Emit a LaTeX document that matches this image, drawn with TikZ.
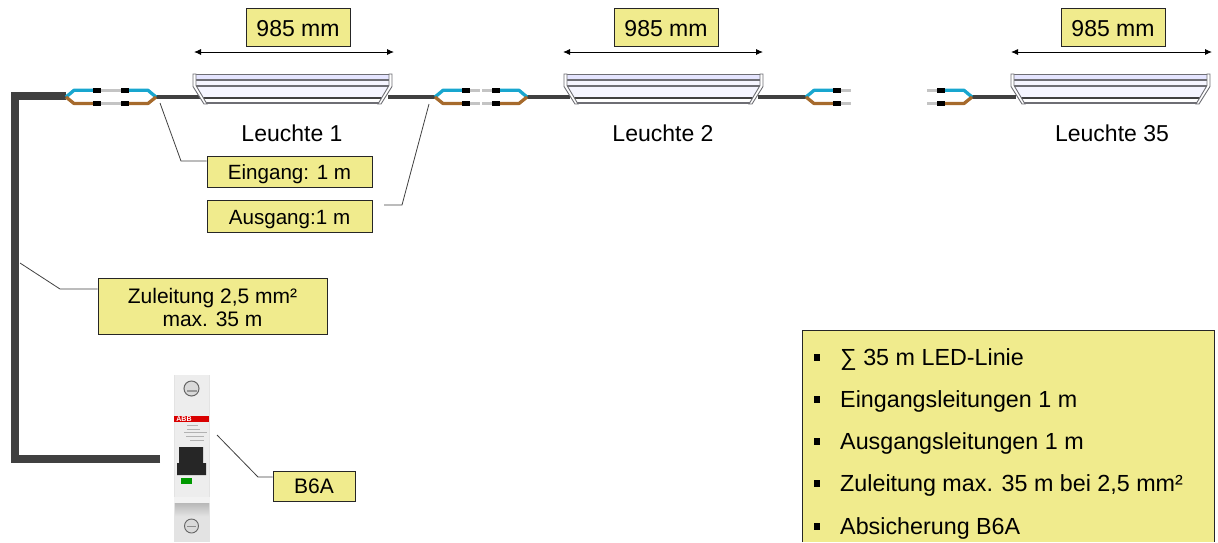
\documentclass[tikz,border=0pt]{standalone}
\usepackage{fontspec}
\setmainfont{Liberation Sans}
\usetikzlibrary{arrows.meta}
\definecolor{boxy}{HTML}{F0EB8D}
\definecolor{cabledark}{HTML}{404040}
\definecolor{blueW}{HTML}{18A6CF}
\definecolor{brownW}{HTML}{A66A2C}
\definecolor{pinG}{HTML}{C4C4C4}
\definecolor{lampG}{HTML}{6E6E74}
\newcommand{\lift}[1]{\rule{0pt}{#1pt}}
\tikzset{
  x=1pt,y=-1pt,
  lab/.style={draw=black!85,line width=0.7pt,fill=boxy,inner sep=0pt,font=\fontsize{20.6}{23}\selectfont,align=center},
  labw/.style={lab,font=\fontsize{21}{23}\selectfont},
  bigl/.style={lab,font=\fontsize{23}{25}\selectfont},
  plain/.style={inner sep=0pt,font=\fontsize{23}{25}\selectfont},
  bigtxt/.style={inner sep=0pt,anchor=base west,font=\fontsize{23.3}{25}\selectfont},
  bulletsq/.style={fill=black,inner sep=0pt,minimum size=6.5pt},
  leader/.style={draw=black!75,line width=0.8pt},
  dimarrow/.style={draw=black,line width=0.9pt,{Latex[length=7pt,width=6pt]}-{Latex[length=7pt,width=6pt]}},
  feed/.style={draw=cabledark,line width=8pt,miter limit=10},
  thincable/.style={draw=cabledark,line width=3.6pt},
  corew/.style={line width=3.3pt,line join=round},
  pinw/.style={draw=pinG,line width=3pt},
  sleeve/.style={draw=black,line width=5pt},
  lampline/.style={draw=lampG,line width=1.3pt},
}
% half connector: #1 = root x, #2 = direction (+1/-1)
\newcommand{\halfconn}[2]{%
  \draw[corew,blueW] (#1,97) -- ({#1+#2*8},90.3) -- ({#1+#2*27},90.3);
  \draw[corew,brownW] (#1,97) -- ({#1+#2*8},103.5) -- ({#1+#2*27},103.5);
  \foreach \yy in {90.3,103.5}{
    \draw[sleeve] ({#1+#2*27},\yy) -- ({#1+#2*35},\yy);
    \draw[pinw] ({#1+#2*35},\yy) -- ({#1+#2*45},\yy);
  }}
% lamp: #1 = left x
\newcommand{\lamp}[1]{%
  \fill[blue!10] (#1+1,74.5) rectangle (#1+198,80);
  \fill[blue!4] (#1+1,80) -- (#1+1,86) -- (#1+12,103) -- (#1+187,103) -- (#1+198,86) -- (#1+198,80) -- cycle;
  \fill[white] (#1+12,98) rectangle (#1+187,103);
  \draw[thincable,line width=2pt] (#1+8,97.7) -- (#1+192,97.7);
  \draw[lampline] (#1,74.5) -- (#1+199,74.5);
  \draw[lampline] (#1+1,80) -- (#1+198,80);
  \draw[lampline] (#1+1,86) -- (#1+198,86);
  \draw[lampline] (#1+12,103) -- (#1+187,103);
  \fill[white,draw=lampG,line width=0.9pt] (#1,74) -- (#1,86.5) -- (#1+11,104) -- (#1+14,104) -- (#1+3,85.5) -- (#1+3,74) -- cycle;
  \fill[white,draw=lampG,line width=0.9pt] (#1+199,74) -- (#1+199,86.5) -- (#1+188,104) -- (#1+185,104) -- (#1+196,85.5) -- (#1+196,74) -- cycle;
}
\begin{document}
\begin{tikzpicture}
\useasboundingbox (0,0) rectangle (1218,542);

% wiring
\coordinate (feedA) at (160,459);
\coordinate (feedB) at (15,459);
\coordinate (feedC) at (15,96);
\coordinate (feedD) at (66,96);
\draw[feed] (feedA) -- (feedB) -- (feedC) -- (feedD);
\coordinate (c1) at (156,97);
\coordinate (c2) at (435,97);
\coordinate (c3) at (527,97);
\coordinate (c4) at (806,97);
\coordinate (c5) at (972,97);
\coordinate (l1a) at (200,97);
\coordinate (l1b) at (388,97);
\coordinate (l2a) at (570,97);
\coordinate (l2b) at (758,97);
\coordinate (l3a) at (1016,97);
\draw[thincable] (c1) -- (l1a);
\draw[thincable,line width=4.5pt] (l1b) -- (c2);
\draw[thincable,line width=4.5pt] (c3) -- (l2a);
\draw[thincable,line width=4.5pt] (l2b) -- (c4);
\draw[thincable,line width=4.5pt] (c5) -- (l3a);
\halfconn{66}{1}
\halfconn{156}{-1}
\halfconn{435}{1}
\halfconn{527}{-1}
\halfconn{806}{1}
\halfconn{972}{-1}

% lamps
\lamp{193}
\lamp{564}
\lamp{1011}

% dimension arrows and labels
\node[bigl,minimum width=104pt,minimum height=38pt] (d1) at (298,27) {\lift{18.5}985 mm};
\node[bigl,minimum width=104pt,minimum height=38pt] (d2) at (666,27) {\lift{18.5}985 mm};
\node[bigl,minimum width=104pt,minimum height=38pt] (d3) at (1113,27) {\lift{18.5}985 mm};
\coordinate (a1l) at (194,52); \coordinate (a1r) at (394,52);
\coordinate (a2l) at (563,52); \coordinate (a2r) at (763,52);
\coordinate (a3l) at (1011,52); \coordinate (a3r) at (1212,52);
\draw[dimarrow] (a1l) -- (a1r);
\draw[dimarrow] (a2l) -- (a2r);
\draw[dimarrow] (a3l) -- (a3r);

\node[plain] (n1) at (292,133.5) {Leuchte 1};
\node[plain] (n2) at (663,133.5) {Leuchte 2};
\node[plain] (n3) at (1112,133.5) {Leuchte 35};

% callouts
\node[lab,minimum width=165pt,minimum height=31pt] (ein) at (289.5,171.5) {\lift{21}Eingang: 1 m};
\node[lab,minimum width=165pt,minimum height=32pt] (aus) at (289.5,216) {\lift{21}Ausgang:1 m};
\node[labw,minimum width=229pt,minimum height=56pt] (zu) at (212.5,306) {\lift{17.5}Zuleitung 2,5 mm²\\max. 35 m};
\node[labw,minimum width=82pt,minimum height=30pt] (b6) at (314,486) {B6A};

\coordinate (e0) at (160,103); \coordinate (e1) at (181,161);
\coordinate (u0) at (429,104); \coordinate (u1) at (402,205);
\coordinate (z0) at (20,263); \coordinate (z1) at (60,289);
\coordinate (b0) at (217,435); \coordinate (b1) at (258,477);
\draw[leader] (e0) -- (e1) -- (e1 -| ein.west);
\draw[leader] (u0) -- (u1) -- (384,205);
\draw[leader] (z0) -- (z1) -- (z1 -| zu.west);
\draw[leader] (b0) -- (b1) -- (b1 -| b6.west);

% circuit breaker
\fill[black!11] (174,375) rectangle (210,542);
\fill[black!7] (175,375) rectangle (209,500);
\fill[black!5] (174,497) rectangle (210,503);
\shade[top color=black!28,bottom color=black!10] (175,503) rectangle (209,517);
\fill[black!11] (175,517) rectangle (209,542);
\draw[black!60,line width=1pt,fill=black!15] (191.5,388.5) circle (7.5);
\fill[black!40] (186.5,390) rectangle (196.5,392);
\draw[black!60,line width=0.9pt,fill=black!15] (191.5,526) circle (7);
\draw[black!45,line width=0.8pt] (187,526) -- (196,526);
\fill[red!85!black] (174,415.5) rectangle (209,422);
\node[inner sep=0pt,text=white,font=\bfseries\fontsize{7}{7}\selectfont] (abb) at (184,418.8) {ABB};
\foreach \yy/\xa/\xb in {425/187/198,429/187/200,432/184/207,436/186/204,440/190/204}
  \draw[black!30,line width=0.7pt] (\xa,\yy) -- (\xb,\yy);
\fill[black!85] (179,447) -- (203,447) -- (203,463) -- (206,463) -- (206,475) -- (177,475) -- (177,463) -- (179,463) -- cycle;
\fill[green!60!black] (181,478) rectangle (192,483.5);

% summary panel
\path[fill=boxy,draw=black!85,line width=0.7pt] (802,542) -- (802,330) -- (1214,330) -- (1214,542);
\node[minimum width=412pt,minimum height=212pt,inner sep=0pt] (panel) at (1008,436) {};
\foreach \yy/\tt/\nm in {365.5/{∑ 35 m LED-Linie}/s1,407.5/{Eingangsleitungen 1 m}/s2,449.5/{Ausgangsleitungen 1 m}/s3,491.5/{Zuleitung max. 35 m bei 2,5 mm²}/s4,534.5/{Absicherung B6A}/s5}{
  \node[bulletsq] (b\nm) at (817,{\yy-8}) {};
  \node[bigtxt] (\nm) at (840,\yy) {\tt};
}
\end{tikzpicture}
\end{document}
